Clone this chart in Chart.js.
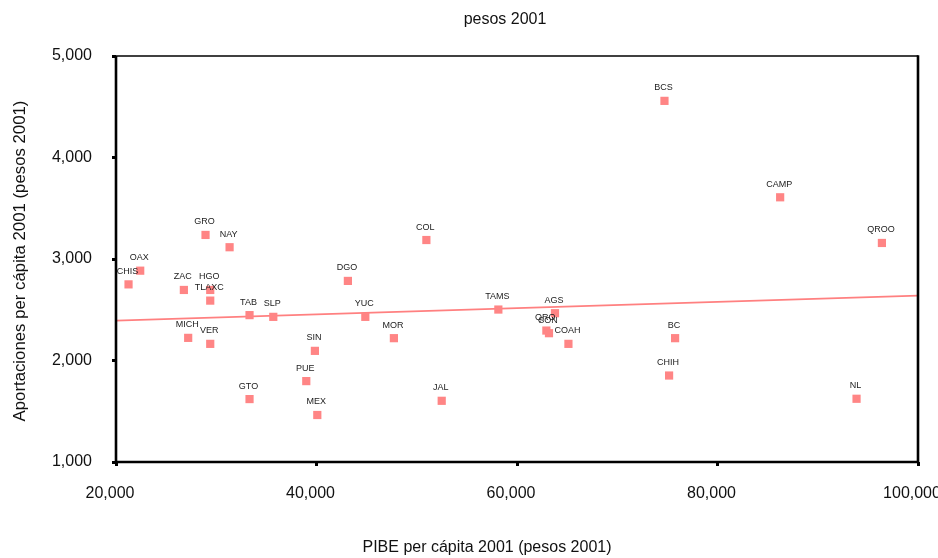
<!DOCTYPE html>
<html>
<head>
<meta charset="utf-8">
<script src="https://cdn.jsdelivr.net/npm/chart.js@4/dist/chart.umd.min.js"></script>
<style>
  html, body { margin: 0; padding: 0; background: #ffffff; }
  canvas { display: block; }
</style>
</head>
<body>
<canvas id="c" width="938" height="558"></canvas>
<script>
// ---- data ----
const states = ["CHIS","OAX","GRO","NAY","ZAC","HGO","TLAXC","TAB","SLP","MICH","VER","SIN","PUE","GTO","MEX","COL","DGO","YUC","MOR","TAMS","AGS","QRO","SON","COAH","BC","CHIH","JAL","BCS","CAMP","NL","QROO"];
const pibePerCapita = [21250,22415,28930,31330,26770,29400,29400,33320,35690,27200,29400,39840,38980,33320,40080,50960,43130,44870,47720,58140,63790,62930,63190,65130,75770,75170,52490,74710,86250,93870,96400];
const aportaciones = [2750,2885,3237,3116,2695,2695,2590,2447,2430,2223,2164,2095,1797,1620,1463,3187,2784,2430,2220,2502,2466,2295,2269,2164,2220,1852,1603,4558,3608,1623,3158];
const fitX = [20000, 100000];
const fitY = [2393, 2639];
const xTicks = [20000, 40000, 60000, 80000, 100000];
const yTicks = [1000, 2000, 3000, 4000, 5000];
const chartTitle = "pesos 2001";
const xTitle = "PIBE per cápita 2001 (pesos 2001)";
const yTitle = "Aportaciones per cápita 2001 (pesos 2001)";

const FONT = "'Liberation Sans', Arial, sans-serif";
const fmt = v => v.toLocaleString('en-US');

const points = states.map((s, i) => ({ x: pibePerCapita[i], y: aportaciones[i] }));
const fitLine = fitX.map((x, i) => ({ x: x, y: fitY[i] }));

const decorPlugin = {
  id: 'decor',
  afterDatasetsDraw(chart) {
    const ctx = chart.ctx;
    const meta = chart.getDatasetMeta(0);
    ctx.save();
    ctx.font = "9px " + FONT;
    ctx.fillStyle = "#222";
    ctx.textAlign = "center";
    ctx.textBaseline = "middle";
    meta.data.forEach((el, i) => {
      ctx.fillText(states[i], el.x - 1, el.y - 13);
    });
    ctx.restore();
  },
  afterDraw(chart) {
    const ctx = chart.ctx;
    const a = chart.chartArea;
    ctx.save();
    // frame
    ctx.strokeStyle = "#000";
    ctx.lineWidth = 1.5;
    ctx.beginPath(); ctx.moveTo(a.left, a.top); ctx.lineTo(a.right, a.top); ctx.stroke();
    ctx.lineWidth = 2.6;
    ctx.beginPath();
    ctx.moveTo(a.left, a.top); ctx.lineTo(a.left, a.bottom + 1.3);
    ctx.moveTo(a.left - 1.3, a.bottom); ctx.lineTo(a.right + 1.3, a.bottom);
    ctx.moveTo(a.right, a.top - 0.7); ctx.lineTo(a.right, a.bottom + 1.3);
    ctx.stroke();
    // titles
    ctx.fillStyle = "#111";
    ctx.font = "16px " + FONT;
    ctx.textAlign = "center";
    ctx.textBaseline = "middle";
    ctx.fillText(chartTitle, 505, 20);
    ctx.fillText(xTitle, 487, 548);
    ctx.font = "16.8px " + FONT;
    ctx.translate(20, 261);
    ctx.rotate(-Math.PI / 2);
    ctx.fillText(yTitle, 0, 0);
    ctx.restore();
  }
};

new Chart(document.getElementById('c'), {
  type: 'scatter',
  data: {
    datasets: [
      {
        label: 'Estados',
        data: points,
        pointStyle: 'rect',
        pointRadius: 5.8,
        pointHoverRadius: 5.8,
        backgroundColor: '#ff8585',
        borderColor: '#ff8585',
        borderWidth: 0,
        order: 0
      },
      {
        type: 'line',
        label: 'Ajuste',
        data: fitLine,
        borderColor: '#ff8080',
        borderWidth: 1.6,
        pointRadius: 0,
        fill: false,
        order: 1
      }
    ]
  },
  plugins: [decorPlugin],
  options: {
    responsive: false,
    animation: false,
    layout: { padding: { top: 56, right: 20, left: 0, bottom: 0 } },
    plugins: {
      legend: { display: false },
      title: { display: false },
      tooltip: { enabled: false }
    },
    scales: {
      x: {
        type: 'linear',
        min: xTicks[0],
        max: xTicks[xTicks.length - 1],
        afterBuildTicks: s => { s.ticks = xTicks.map(v => ({ value: v })); },
        afterFit: s => { s.height = 96; s.paddingLeft = 0; s.paddingRight = 0; },
        border: { display: false },
        grid: { display: true, drawOnChartArea: false, drawTicks: true, tickLength: 4, tickWidth: 3, tickColor: '#000' },
        ticks: {
          padding: 18,
          labelOffset: -6,
          maxRotation: 0,
          color: '#111',
          font: { family: FONT, size: 16 },
          callback: v => fmt(v)
        },
        title: { display: false }
      },
      y: {
        type: 'linear',
        min: yTicks[0],
        max: yTicks[yTicks.length - 1],
        afterBuildTicks: s => { s.ticks = yTicks.map(v => ({ value: v })); },
        afterFit: s => { s.width = 116; s.paddingTop = 0; s.paddingBottom = 0; },
        border: { display: false },
        grid: { display: true, drawOnChartArea: false, drawTicks: true, tickLength: 4, tickWidth: 3, tickColor: '#000' },
        ticks: {
          padding: 20,
          color: '#111',
          font: { family: FONT, size: 16 },
          callback: v => fmt(v)
        },
        title: { display: false }
      }
    }
  }
});
</script>
</body>
</html>
